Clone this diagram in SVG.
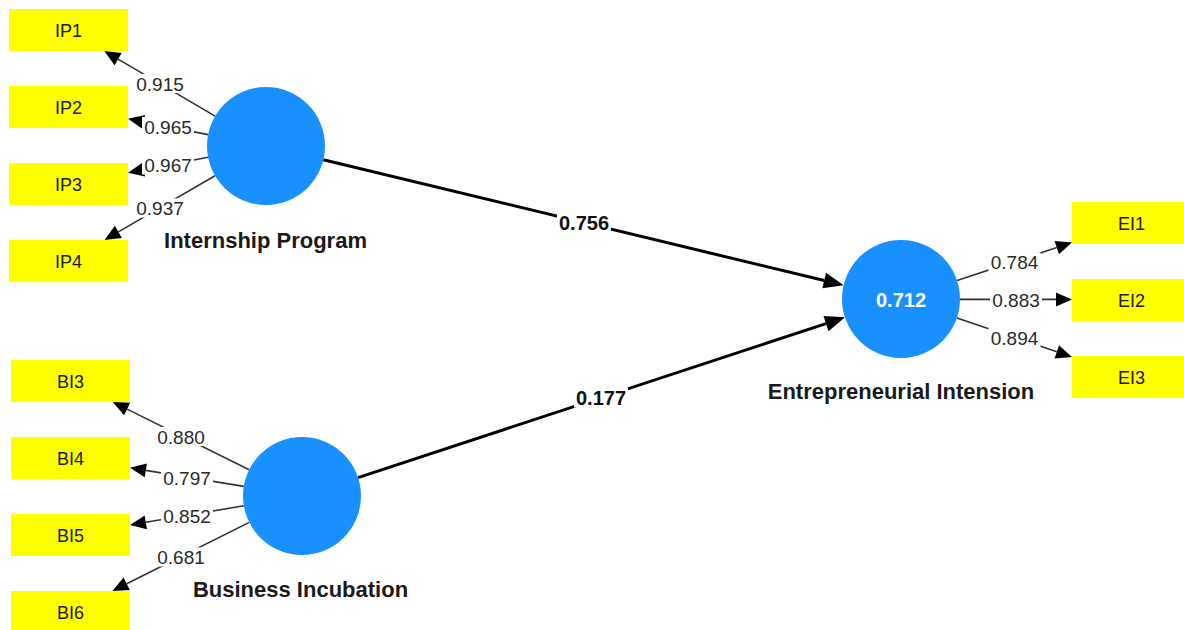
<svg xmlns="http://www.w3.org/2000/svg" width="1184" height="630" viewBox="0 0 1184 630">
  <style>
    .ind rect { fill: #ffff00; }
    .ind text { font-family: "Liberation Sans", Arial, sans-serif; font-size: 18px; fill: #1a1a1a; text-anchor: middle; }
    .lv circle { fill: #1890ff; }
    .lv text.name { font-family: "Liberation Sans", Arial, sans-serif; font-size: 22px; font-weight: bold; fill: #1a1a1a; text-anchor: middle; }
    .lv text.r2 { font-family: "Liberation Sans", Arial, sans-serif; font-size: 20px; font-weight: bold; fill: #ffffff; text-anchor: middle; }
    .load { stroke: #333333; stroke-width: 1.6; fill: none; marker-end: url(#headS); }
    .path { stroke: #000000; stroke-width: 3; fill: none; marker-end: url(#headL); }
    .lbg { fill: #ffffff; }
    .ltxt { font-family: "Liberation Sans", Arial, sans-serif; font-size: 19px; fill: #2a2a2a; text-anchor: middle; }
    .ptxt { font-family: "Liberation Sans", Arial, sans-serif; font-size: 20px; font-weight: bold; fill: #111111; text-anchor: middle; }
  </style>
  <defs>
    <marker id="headS" markerUnits="userSpaceOnUse" orient="auto" refX="0" refY="0" markerWidth="20" markerHeight="20" overflow="visible">
      <path d="M0,-7 L16,0 L0,7 Z" fill="#000000"/>
    </marker>
    <marker id="headL" markerUnits="userSpaceOnUse" orient="auto" refX="0" refY="0" markerWidth="24" markerHeight="24" overflow="visible">
      <path d="M0,-8 L20,0 L0,8 Z" fill="#000000"/>
    </marker>
  </defs>
  <rect width="1184" height="630" fill="#ffffff"/>

  <!-- connectors: outer loadings and inner path coefficients -->
  <g id="connectors">
    <line class="load" x1="215.1" y1="116.1" x2="118.1" y2="59.1"/>
    <line class="load" x1="208.1" y1="134.6" x2="143.7" y2="121.9"/>
    <line class="load" x1="208.1" y1="157.2" x2="143.7" y2="169.6"/>
    <line class="load" x1="215" y1="175.7" x2="118.4" y2="231.9"/>

    <line class="load" x1="249.2" y1="469.8" x2="127.1" y2="409.1"/>
    <line class="load" x1="243.8" y1="486.4" x2="145.8" y2="470.4"/>
    <line class="load" x1="243.8" y1="505.8" x2="145.8" y2="522.3"/>
    <line class="load" x1="249.2" y1="522.4" x2="126.7" y2="583.8"/>

    <line class="load" x1="957" y1="280.5" x2="1056.8" y2="247.6"/>
    <line class="load" x1="960" y1="299.4" x2="1056" y2="299.4"/>
    <line class="load" x1="956.9" y1="317.9" x2="1056.8" y2="351.8"/>

    <line class="path" x1="323.3" y1="159.8" x2="824.2" y2="280.5"/>
    <line class="path" x1="358" y1="477.6" x2="826" y2="323.6"/>

    <!-- coefficient labels -->
    <rect class="lbg" x="134" y="74" width="52" height="19"/>
    <text class="ltxt" x="160" y="90.8">0.915</text>
    <rect class="lbg" x="142" y="117" width="52" height="19"/>
    <text class="ltxt" x="168" y="133.8">0.965</text>
    <rect class="lbg" x="142" y="155.5" width="52" height="19"/>
    <text class="ltxt" x="168" y="172.3">0.967</text>
    <rect class="lbg" x="134" y="198.5" width="52" height="19"/>
    <text class="ltxt" x="160" y="215.3">0.937</text>

    <rect class="lbg" x="155" y="427" width="52" height="19"/>
    <text class="ltxt" x="181" y="443.8">0.880</text>
    <rect class="lbg" x="161" y="468.5" width="52" height="19"/>
    <text class="ltxt" x="187" y="485.3">0.797</text>
    <rect class="lbg" x="161" y="506.5" width="52" height="19"/>
    <text class="ltxt" x="187" y="523.3">0.852</text>
    <rect class="lbg" x="155" y="547.5" width="52" height="19"/>
    <text class="ltxt" x="181" y="564.3">0.681</text>

    <rect class="lbg" x="988.5" y="252.5" width="52" height="19"/>
    <text class="ltxt" x="1014.5" y="269.3">0.784</text>
    <rect class="lbg" x="990" y="290" width="52" height="19"/>
    <text class="ltxt" x="1016" y="306.8">0.883</text>
    <rect class="lbg" x="988.5" y="328" width="52" height="19"/>
    <text class="ltxt" x="1014.5" y="344.8">0.894</text>

    <rect class="lbg" x="557" y="213" width="54" height="20"/>
    <text class="ptxt" x="584" y="230">0.756</text>
    <rect class="lbg" x="574" y="387.5" width="54" height="20"/>
    <text class="ptxt" x="601" y="404.5">0.177</text>
  </g>

  <!-- latent variables -->
  <g id="internship-program" class="lv">
    <circle cx="266" cy="146" r="59"/>
    <text class="name" x="265.5" y="248">Internship Program</text>
  </g>
  <g id="business-incubation" class="lv">
    <circle cx="302" cy="496" r="59"/>
    <text class="name" x="300.5" y="597">Business Incubation</text>
  </g>
  <g id="entrepreneurial-intension" class="lv">
    <circle cx="901" cy="299" r="59"/>
    <text class="r2" x="901" y="307">0.712</text>
    <text class="name" x="901" y="399">Entrepreneurial Intension</text>
  </g>

  <!-- indicators -->
  <g id="IP1" class="ind"><rect x="9" y="9" width="119" height="42"/><text x="68.5" y="36.5">IP1</text></g>
  <g id="IP2" class="ind"><rect x="9" y="86" width="119" height="42"/><text x="68.5" y="113.5">IP2</text></g>
  <g id="IP3" class="ind"><rect x="9" y="163" width="119" height="42"/><text x="68.5" y="190.5">IP3</text></g>
  <g id="IP4" class="ind"><rect x="9" y="240" width="119" height="42"/><text x="68.5" y="267.5">IP4</text></g>

  <g id="BI3" class="ind"><rect x="11" y="360" width="119" height="42"/><text x="70.5" y="387.5">BI3</text></g>
  <g id="BI4" class="ind"><rect x="11" y="437" width="119" height="42"/><text x="70.5" y="464.5">BI4</text></g>
  <g id="BI5" class="ind"><rect x="11" y="514" width="119" height="42"/><text x="70.5" y="541.5">BI5</text></g>
  <g id="BI6" class="ind"><rect x="11" y="591" width="119" height="42"/><text x="70.5" y="618.5">BI6</text></g>

  <g id="EI1" class="ind"><rect x="1072" y="202" width="119" height="42"/><text x="1131.5" y="229.5">EI1</text></g>
  <g id="EI2" class="ind"><rect x="1072" y="279" width="119" height="42"/><text x="1131.5" y="306.5">EI2</text></g>
  <g id="EI3" class="ind"><rect x="1072" y="356" width="119" height="42"/><text x="1131.5" y="383.5">EI3</text></g>
</svg>
